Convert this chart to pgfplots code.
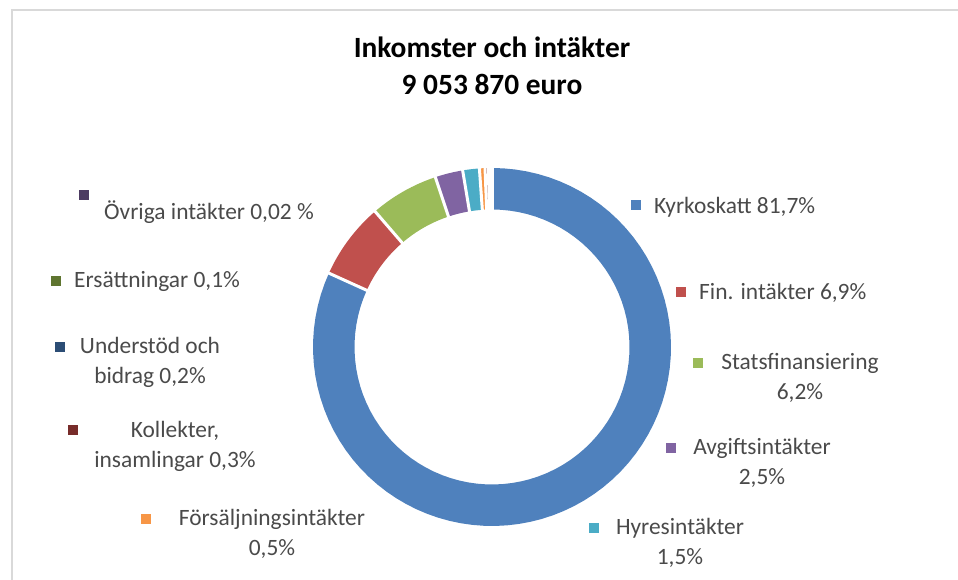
\documentclass[border=0pt]{standalone}
\usepackage{fontspec}
\setmainfont{Carlito}
\usepackage{pgfplots}
\pgfplotsset{compat=1.18}
\usepgfplotslibrary{fillbetween}
\definecolor{cA}{HTML}{4F81BD}
\definecolor{cB}{HTML}{C0504D}
\definecolor{cC}{HTML}{9BBB59}
\definecolor{cD}{HTML}{8064A2}
\definecolor{cE}{HTML}{4BACC6}
\definecolor{cF}{HTML}{F79646}
\definecolor{cG}{HTML}{772C2A}
\definecolor{cH}{HTML}{2C4D75}
\definecolor{cI}{HTML}{5F7530}
\definecolor{cJ}{HTML}{4D3B62}
\definecolor{lbl}{HTML}{4A4A4A}
\definecolor{frame}{HTML}{D9D9D9}
% donut geometry (pixel units)
\def\cx{492}\def\cy{347}\def\RO{179}\def\RI{137.5}
\pgfmathsetmacro\tot{81.7+6.9+6.2+2.5+1.5+0.5+0.3+0.2+0.1+0.02}
\pgfmathsetmacro\dpp{360/\tot}
\gdef\cum{0}
\newcounter{sl}
\newcommand\slice[2]{%
  \stepcounter{sl}%
  \pgfmathsetmacro\aA{-90+\cum*\dpp}%
  \pgfmathsetmacro\aB{-90+(\cum+#2)*\dpp}%
  \edef\doslice{%
    \noexpand\addplot[draw=none, name path=o\thesl, domain=\aA:\aB, samples=80] ({\cx+\RO*cos(x)},{\cy+\RO*sin(x)});
    \noexpand\addplot[draw=none, name path=i\thesl, domain=\aA:\aB, samples=80] ({\cx+\RI*cos(x)},{\cy+\RI*sin(x)});
    \noexpand\addplot[fill=#1, draw=none] fill between[of=o\thesl\space and i\thesl];
  }%
  \doslice
  \pgfmathsetmacro\tmp{\cum+#2}\xdef\cum{\tmp}%
}
\newcommand\sep[1]{%
  \pgfmathsetmacro\aS{-90+#1*\dpp}%
  \edef\dosep{\noexpand\addplot[white, line width=3bp, domain=\RI-2:\RO+2, samples=2] ({\cx+x*cos(\aS)},{\cy+x*sin(\aS)});}%
  \dosep
}
\newcommand\key[3]{\addplot[only marks, mark=square*, mark size=4.5bp, color=#1] coordinates {(#2,#3)};}
\begin{document}
\begin{tikzpicture}
\begin{axis}[hide axis, scale only axis, width=958bp, height=580bp,
  xmin=0, xmax=958, ymin=0, ymax=580, y dir=reverse, clip=false]
\draw[frame, line width=2bp] (axis cs:11.5,620) -- (axis cs:11.5,10) -- (axis cs:1000,10);
\slice{cA}{81.7}
\slice{cB}{6.9}
\slice{cC}{6.2}
\slice{cD}{2.5}
\slice{cE}{1.5}
\slice{cF}{0.5}
\slice{cG}{0.3}
\slice{cH}{0.2}
\slice{cI}{0.1}
\slice{cJ}{0.02}
% white separators at cumulative boundaries
\sep{0}
\sep{81.7}
\sep{88.6}
\sep{94.8}
\sep{97.3}
\sep{98.8}
\sep{99.3}
\sep{99.6}
\sep{99.8}
\sep{99.9}
% legend keys
\key{cA}{636}{205}
\key{cB}{681}{292}
\key{cC}{698}{363}
\key{cD}{671}{448}
\key{cE}{594}{528}
\key{cF}{146}{519}
\key{cG}{73}{430}
\key{cH}{60}{347}
\key{cI}{56}{281}
\key{cJ}{84}{195}
\node[font=\fontsize{29.5}{37}\selectfont\bfseries, align=center, inner sep=0] at (axis cs:492,66) {Inkomster och intäkter\\9 053 870 euro};
\tikzset{lb/.style={text=lbl, inner sep=0, font=\fontsize{23.5}{30}\selectfont, align=center}}
\node[lb, anchor=west] at (axis cs:654,207) {Kyrkoskatt 81,7\%};
\node[lb, anchor=west] at (axis cs:699,293) {Fin. intäkter 6,9\%};
\node[lb] at (axis cs:800,378) {Statsfinansiering\\6,2\%};
\node[lb] at (axis cs:762,463) {Avgiftsintäkter\\2,5\%};
\node[lb] at (axis cs:680,543) {Hyresintäkter\\1,5\%};
\node[lb] at (axis cs:272,534) {Försäljningsintäkter\\0,5\%};
\node[lb] at (axis cs:175,446) {Kollekter,\\insamlingar 0,3\%};
\node[lb] at (axis cs:150,362) {Understöd och\\bidrag 0,2\%};
\node[lb, anchor=west] at (axis cs:74,281) {Ersättningar 0,1\%};
\node[lb, anchor=west] at (axis cs:104,212) {Övriga intäkter 0,02 \%};
\end{axis}
\pgfresetboundingbox
\useasboundingbox (current axis.south west) rectangle (current axis.north east);
\end{tikzpicture}
\end{document}
